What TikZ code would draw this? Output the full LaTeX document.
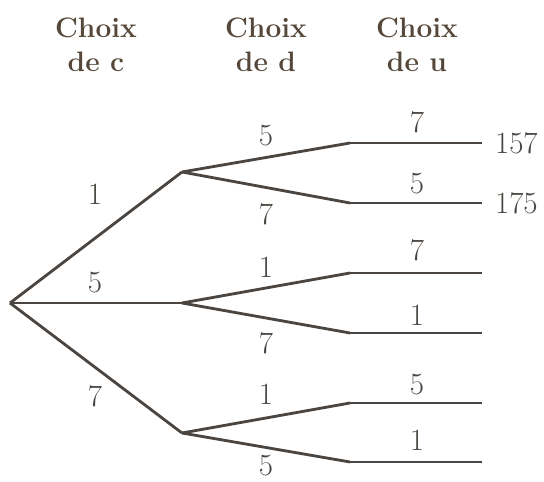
\documentclass[tikz,border=0pt]{standalone}
\usetikzlibrary{positioning}
\definecolor{ink}{HTML}{4A4540}
\definecolor{headink}{HTML}{55483A}
\begin{document}
\begin{tikzpicture}[
        branch/.style={draw=ink, line width=2pt, line join=round},
        leaf/.style={draw=ink, line width=1pt},
        num/.style={text=ink, font=\fontsize{22}{24}\selectfont, inner sep=0pt},
        head/.style={text=headink, font=\fontsize{20}{24}\selectfont\bfseries, align=center, inner sep=0pt}
    ]
        \useasboundingbox (0,0) rectangle (13.6,12.05);

        % Column headings
        \node[head] (Hc) at (2.4,10.925) {Choix\\de c};
        \node[head] (Hd) at (6.65,10.925) {Choix\\de d};
        \node[head] (Hu) at (10.425,10.925) {Choix\\de u};

        % Root and choice of c
        \coordinate (R) at (0.25,4.475);
        \coordinate (C1) at (4.55,7.75);
        \coordinate (C5) at (4.55,4.475);
        \coordinate (C7) at (4.55,1.225);

        % Choice of d
        \coordinate (D15) at (8.75,8.475);
        \coordinate (D17) at (8.75,6.975);
        \coordinate (D51) at (8.75,5.225);
        \coordinate (D57) at (8.75,3.725);
        \coordinate (D71) at (8.75,1.975);
        \coordinate (D75) at (8.75,0.5);

        % Choice of u (line ends)
        \coordinate (E1) at (12.05,8.475);
        \coordinate (E2) at (12.05,6.975);
        \coordinate (E3) at (12.05,5.225);
        \coordinate (E4) at (12.05,3.725);
        \coordinate (E5) at (12.05,1.975);
        \coordinate (E6) at (12.05,0.5);

        % Branches
        \draw[branch] (R) -- (C1);
        \draw[branch] (R) -- (C5);
        \draw[branch] (R) -- (C7);

        \draw[branch] (C1) -- (D15);
        \draw[branch] (C1) -- (D17);
        \draw[branch] (C5) -- (D51);
        \draw[branch] (C5) -- (D57);
        \draw[branch] (C7) -- (D71);
        \draw[branch] (C7) -- (D75);

        \draw[leaf] (D15) -- (E1);
        \draw[leaf] (D17) -- (E2);
        \draw[leaf] (D51) -- (E3);
        \draw[leaf] (D57) -- (E4);
        \draw[leaf] (D71) -- (E5);
        \draw[leaf] (D75) -- (E6);

        % Digits on the branches
        \node[num] (c1) at (2.375,7.2) {1};
        \node[num] (c5) at (2.375,4.975) {5};
        \node[num] (c7) at (2.375,2.15) {7};

        \node[num] (d15) at (6.65,8.65) {5};
        \node[num] (d17) at (6.65,6.7) {7};
        \node[num] (d51) at (6.65,5.375) {1};
        \node[num] (d57) at (6.65,3.475) {7};
        \node[num] (d71) at (6.65,2.2) {1};
        \node[num] (d75) at (6.65,0.42) {5};

        \node[num] (u1) at (10.425,9.0) {7};
        \node[num] (u2) at (10.425,7.45) {5};
        \node[num] (u3) at (10.425,5.8) {7};
        \node[num] (u4) at (10.425,4.175) {1};
        \node[num] (u5) at (10.425,2.425) {5};
        \node[num] (u6) at (10.425,1.05) {1};

        % Resulting numbers
        \node[num, right=0.32cm of E1] (n157) {157};
        \node[num, right=0.32cm of E2] (n175) {175};
    \end{tikzpicture}
\end{document}
